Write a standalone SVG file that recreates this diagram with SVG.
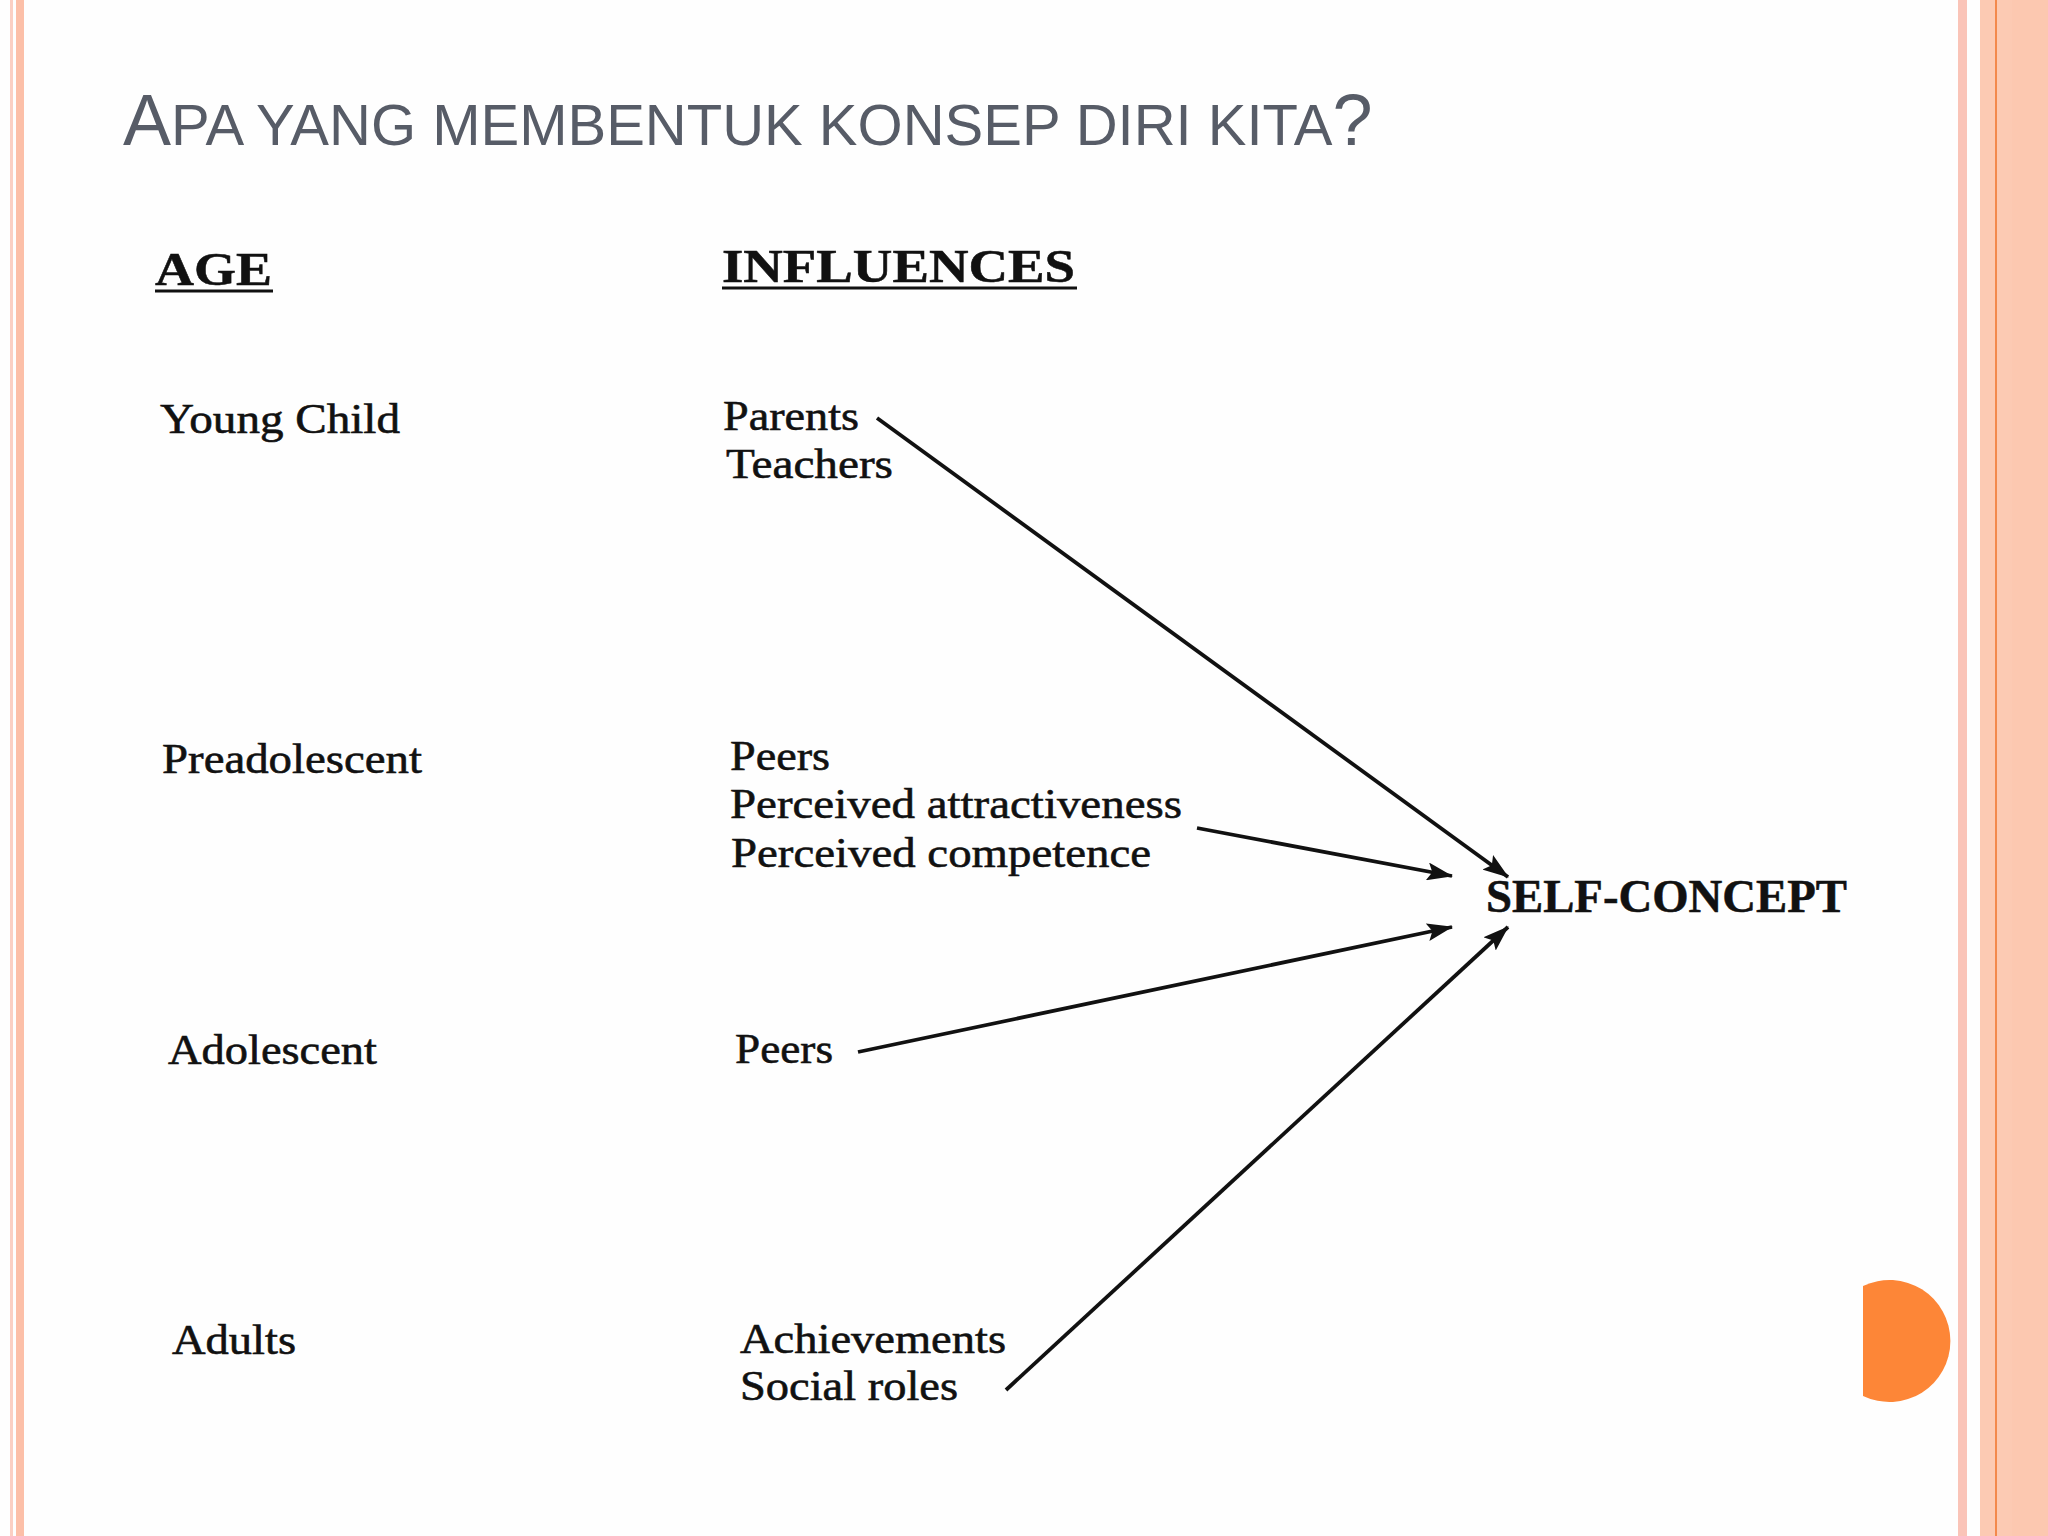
<svg xmlns="http://www.w3.org/2000/svg" width="2048" height="1536" viewBox="0 0 2048 1536">
  <style>
    .title { font-family: "Liberation Sans", Arial, sans-serif; fill: #575c67; }
    .lbl { font-family: "Liberation Serif", "Times New Roman", serif; font-size: 43px; fill: #111111; stroke: #111111; stroke-width: 0.6px; }
    .hdr { font-family: "Liberation Serif", "Times New Roman", serif; font-size: 46px; font-weight: bold; fill: #111111; stroke: #111111; stroke-width: 0.5px; }
    .conn { stroke: #111111; stroke-width: 3.8; fill: none; marker-end: url(#arrow); }
    .ul { stroke: #111111; stroke-width: 3.2; }
  </style>
  <defs>
    <marker id="arrow" viewBox="0 0 26 18" refX="25" refY="9" markerWidth="26" markerHeight="18" markerUnits="userSpaceOnUse" orient="auto">
      <path d="M0,0 L26,9 L0,18 L5,9 z" fill="#111111"/>
    </marker>
  </defs>

  <!-- background and slide frame -->
  <rect x="0" y="0" width="2048" height="1536" fill="#fefefe"/>
  <g id="frame">
    <rect x="10" y="0" width="3" height="1536" fill="#fbcfc3"/>
    <rect x="16" y="0" width="8" height="1536" fill="#fcbfa8"/>
    <rect x="1958" y="0" width="9" height="1536" fill="#fac4b8"/>
    <rect x="1980" y="0" width="68" height="1536" fill="#fccab3"/>
    <rect x="2012" y="0" width="36" height="1536" fill="#fcc8b0"/>
    <rect x="1995" y="0" width="2" height="1536" fill="#f3894c"/>
    <path d="M1863,1286 A61,61 0 1 1 1863,1396 Z" fill="#fd8637"/>
  </g>

  <!-- title -->
  <text class="title" x="123" y="145"><tspan font-size="72">A</tspan><tspan font-size="58">PA YANG MEMBENTUK KONSEP DIRI KITA</tspan><tspan font-size="72">?</tspan></text>

  <!-- column headers -->
  <g id="hdr-age">
    <text class="hdr" x="155" y="285" textLength="117" lengthAdjust="spacingAndGlyphs">AGE</text>
    <line class="ul" x1="155" y1="291" x2="273" y2="291"/>
  </g>
  <g id="hdr-influences">
    <text class="hdr" x="722" y="282" textLength="353" lengthAdjust="spacingAndGlyphs">INFLUENCES</text>
    <line class="ul" x1="722" y1="288" x2="1077" y2="288"/>
  </g>

  <!-- age nodes -->
  <g id="age-young-child"><text class="lbl" x="160" y="433" textLength="240" lengthAdjust="spacingAndGlyphs">Young Child</text></g>
  <g id="age-preadolescent"><text class="lbl" x="162" y="773" textLength="260" lengthAdjust="spacingAndGlyphs">Preadolescent</text></g>
  <g id="age-adolescent"><text class="lbl" x="168" y="1064" textLength="209" lengthAdjust="spacingAndGlyphs">Adolescent</text></g>
  <g id="age-adults"><text class="lbl" x="172" y="1354" textLength="124" lengthAdjust="spacingAndGlyphs">Adults</text></g>

  <!-- influence nodes -->
  <g id="inf-young-child">
    <text class="lbl" x="723" y="430" textLength="136" lengthAdjust="spacingAndGlyphs">Parents</text>
    <text class="lbl" x="726" y="478" textLength="167" lengthAdjust="spacingAndGlyphs">Teachers</text>
  </g>
  <g id="inf-preadolescent">
    <text class="lbl" x="730" y="770" textLength="100" lengthAdjust="spacingAndGlyphs">Peers</text>
    <text class="lbl" x="730" y="818" textLength="452" lengthAdjust="spacingAndGlyphs">Perceived attractiveness</text>
    <text class="lbl" x="731" y="867" textLength="420" lengthAdjust="spacingAndGlyphs">Perceived competence</text>
  </g>
  <g id="inf-adolescent">
    <text class="lbl" x="735" y="1063" textLength="98" lengthAdjust="spacingAndGlyphs">Peers</text>
  </g>
  <g id="inf-adults">
    <text class="lbl" x="740" y="1353" textLength="266" lengthAdjust="spacingAndGlyphs">Achievements</text>
    <text class="lbl" x="740" y="1400" textLength="218" lengthAdjust="spacingAndGlyphs">Social roles</text>
  </g>

  <!-- target -->
  <g id="self-concept">
    <text class="hdr" x="1486" y="912" font-size="43" textLength="361" lengthAdjust="spacingAndGlyphs">SELF-CONCEPT</text>
  </g>

  <!-- connectors -->
  <g id="connectors">
    <line class="conn" x1="877" y1="418" x2="1508" y2="877"/>
    <line class="conn" x1="1197" y1="828" x2="1452" y2="876"/>
    <line class="conn" x1="858" y1="1052" x2="1452" y2="927"/>
    <line class="conn" x1="1006" y1="1390" x2="1508" y2="927"/>
  </g>
</svg>
